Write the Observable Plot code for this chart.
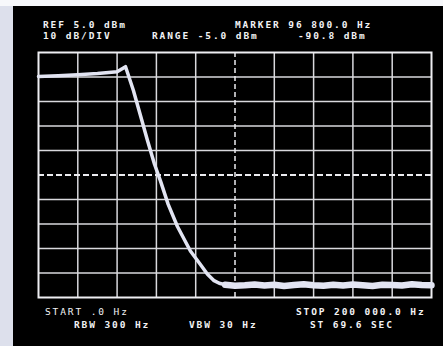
<!DOCTYPE html>
<html><head><meta charset="utf-8">
<script src="https://cdn.jsdelivr.net/npm/d3@7"></script>
<script src="https://cdn.jsdelivr.net/npm/@observablehq/plot@0.6"></script>
<style>
html,body{margin:0;padding:0;width:443px;height:346px;overflow:hidden;background:#dde0ec;}
#top{position:absolute;left:0;top:0;width:443px;height:6px;background:#f7f8fb;}
#screen{position:absolute;left:13px;top:6px;width:430px;height:340px;background:#000;}
#chart{position:absolute;left:0;top:0;}
.t{position:absolute;font-family:"DejaVu Sans Mono",monospace;font-weight:bold;font-size:9.5px;line-height:8px;letter-spacing:1.9px;color:#f2f2f4;white-space:pre;}
</style></head>
<body>
<div id="top"></div>
<div id="screen"></div>
<div id="chart"></div>
<div class="t" style="left:43px;top:20.8px">REF 5.0 dBm</div>
<div class="t" style="left:235px;top:20.8px">MARKER 96 800.0 Hz</div>
<div class="t" style="left:43px;top:32.2px">10 dB/DIV</div>
<div class="t" style="left:152px;top:32.2px">RANGE -5.0 dBm</div>
<div class="t" style="left:298px;top:32.2px">-90.8 dBm</div>
<div class="t" style="left:45px;top:307.7px;font-weight:normal">START .0 Hz</div>
<div class="t" style="left:296px;top:307.7px">STOP 200 000.0 Hz</div>
<div class="t" style="left:74px;top:320.7px">RBW 300 Hz</div>
<div class="t" style="left:189px;top:320.7px">VBW 30 Hz</div>
<div class="t" style="left:310px;top:320.7px">ST 69.6 SEC</div>
<script>
// Grid ticks (Hz, dBm)
const xTicks = [0, 20000, 40000, 60000, 80000, 100000, 120000, 140000, 160000, 180000, 200000];
const yTicks = [5, -5, -15, -25, -35, -45, -55, -65, -75, -85, -95];
const xCenter = [100000];
const yCenter = [-45];

// Filter response trace (passband + skirt)
const traceFreq = [0, 10000, 20000, 30000, 40000, 44300, 48300, 52000, 55500, 59000, 62100, 66000, 70700, 77300, 82400, 86000, 89100, 92000, 95000];
const traceLevel = [-4.8, -4.5, -4.1, -3.6, -2.9, -0.8, -10.5, -21, -31, -40.5, -47.5, -57, -66, -76, -81.5, -85.5, -88, -89.2, -89.8];

// Noise floor
const noiseFreq = [95000, 100000, 105000, 110000, 115000, 120000, 125000, 130000, 135000, 140000, 145000, 150000, 155000, 160000, 165000, 170000, 175000, 180000, 185000, 190000, 195000, 200000];
const noiseLevel = [-89.8, -90.2, -90.0, -89.7, -90.1, -89.8, -90.3, -89.9, -89.6, -90.0, -90.2, -89.8, -90.1, -89.7, -90.0, -90.3, -89.8, -89.9, -90.1, -89.6, -89.9, -90.0];

const trace = traceFreq.map((f, i) => ({f, db: traceLevel[i]}));
const noise = noiseFreq.map((f, i) => ({f, db: noiseLevel[i]}));
const gridX = xTicks.filter(v => v !== 0 && v !== 200000 && !xCenter.includes(v));
const gridY = yTicks.filter(v => v !== 5 && v !== -95 && !yCenter.includes(v));

const plot = Plot.plot({
  width: 443, height: 346,
  marginLeft: 38, marginRight: 12, marginTop: 52, marginBottom: 49,
  style: {background: "transparent"},
  x: {domain: [0, 200000], axis: null},
  y: {domain: [-95, 5], axis: null},
  marks: [
    Plot.ruleX(gridX, {stroke: "#d9d9dd", strokeWidth: 1.5}),
    Plot.ruleY(gridY, {stroke: "#d9d9dd", strokeWidth: 1.5}),
    Plot.ruleX(xCenter, {stroke: "#ececf0", strokeWidth: 1.5, strokeDasharray: "5,3"}),
    Plot.ruleY(yCenter, {stroke: "#ececf0", strokeWidth: 2, strokeDasharray: "6,3"}),
    Plot.frame({stroke: "#eeeef2", strokeWidth: 2}),
    Plot.line(trace, {x: "f", y: "db", stroke: "#e2e4f2", strokeWidth: 3.5, curve: "linear"}),
    Plot.line(noise, {x: "f", y: "db", stroke: "#e2e4f2", strokeWidth: 6.5, curve: "linear"})
  ]
});
document.getElementById("chart").appendChild(plot);
</script>
</body></html>
